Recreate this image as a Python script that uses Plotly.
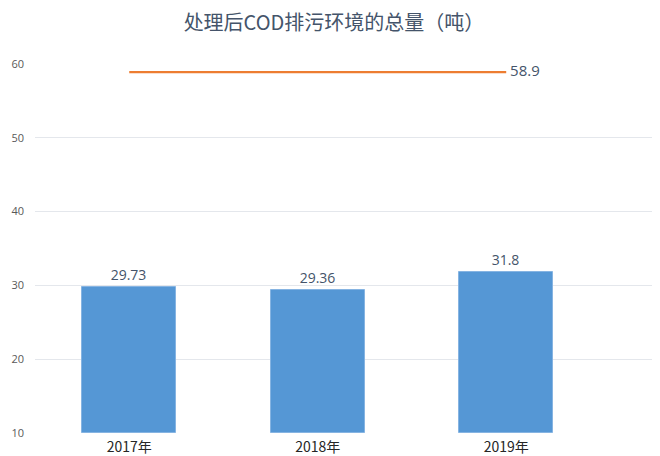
import plotly.graph_objects as go

categories = ["2017年", "2018年", "2019年"]
values = [29.73, 29.36, 31.8]
line_values = [58.9, 58.9, 58.9]
line_labels = ["", "", " 58.9"]
y_ticks = [10, 20, 30, 40, 50, 60]

xs = list(range(len(categories)))

fig = go.Figure()
fig.add_trace(go.Bar(
    x=xs, y=[v - 10 for v in values], base=10, width=0.5,
    marker=dict(color="#5597D5", line=dict(color="#86B4E2", width=1)),
    text=[str(v) for v in values], textposition="outside",
    textfont=dict(size=14, color="#44546A", family="Open Sans, Noto Sans CJK SC"),
    cliponaxis=False, showlegend=False, hoverinfo="skip",
))
fig.add_trace(go.Scatter(
    x=xs, y=line_values, mode="lines+text",
    line=dict(color="#ED7D31", width=2.2),
    text=line_labels, textposition="middle right",
    textfont=dict(size=15, color="#44546A", family="Open Sans, Noto Sans CJK SC"),
    cliponaxis=False, showlegend=False, hoverinfo="skip",
))

fig.update_layout(
    width=652, height=448,
    margin=dict(l=27, r=0, t=56, b=23),
    paper_bgcolor="white", plot_bgcolor="white",
    title=dict(text="处理后COD排污环境的总量（吨）", x=0.5, xanchor="center",
               y=0.966, yanchor="middle",
               font=dict(size=20, color="#44546A", family="Noto Sans CJK SC")),
    xaxis=dict(range=[-0.5, 2.816], tickmode="array", tickvals=xs, ticktext=categories,
               showgrid=False, zeroline=False, showline=False,
               tickfont=dict(size=14, color="#262626", family="Noto Sans CJK SC"),
               ticks="", ticklen=0, ticklabelstandoff=4),
    yaxis=dict(range=[10, 60], tickmode="array", tickvals=y_ticks,
               showgrid=True, gridcolor="#E4E7EC", gridwidth=1, zeroline=False,
               showline=False, ticks="", ticklabelstandoff=10,
               tickfont=dict(size=11, color="#595959", family="Open Sans")),
    bargap=0,
)
fig.write_html("out.html")
